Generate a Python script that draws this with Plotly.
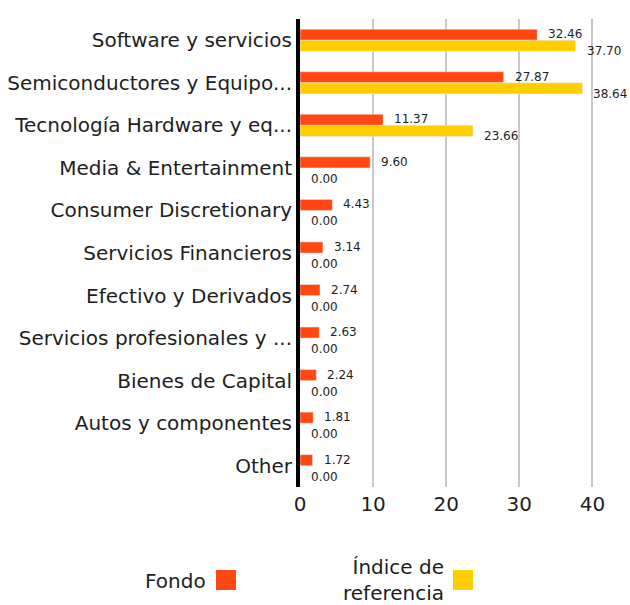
import plotly.graph_objects as go

categories = [
    "Software y servicios",
    "Semiconductores y Equipo...",
    "Tecnología Hardware y eq...",
    "Media & Entertainment",
    "Consumer Discretionary",
    "Servicios Financieros",
    "Efectivo y Derivados",
    "Servicios profesionales y ...",
    "Bienes de Capital",
    "Autos y componentes",
    "Other",
]
fondo = [32.46, 27.87, 11.37, 9.60, 4.43, 3.14, 2.74, 2.63, 2.24, 1.81, 1.72]
indice = [37.70, 38.64, 23.66, 0.00, 0.00, 0.00, 0.00, 0.00, 0.00, 0.00, 0.00]
series_names = ["Fondo", "Índice de<br>referencia"]
x_ticks = [0, 10, 20, 30, 40]

C_FONDO = "#FF4713"
C_IND = "#FFCE00"
TXT = "#1e1e1e"
FONT = "DejaVu Sans"

W, H = 630, 605
ML, MR, MT, MB = 300, 23, 19, 118
XMAX = 42

fig = go.Figure()
fig.add_trace(go.Bar(y=categories, x=fondo, orientation="h", marker_color=C_FONDO,
                     name=series_names[0], showlegend=False))
fig.add_trace(go.Bar(y=categories, x=indice, orientation="h", marker_color=C_IND,
                     name=series_names[1], showlegend=False))

ann = []
for c, v in zip(categories, fondo):
    ann.append(dict(x=v, y=c, xref="x", yref="y", text=f"{v:.2f}", showarrow=False,
                    xanchor="left", yanchor="middle", xshift=9, yshift=6,
                    font=dict(size=12, color=TXT, family=FONT)))
for c, v in zip(categories, indice):
    ann.append(dict(x=v, y=c, xref="x", yref="y", text=f"{v:.2f}", showarrow=False,
                    xanchor="left", yanchor="middle", xshift=9, yshift=-11,
                    font=dict(size=12, color=TXT, family=FONT)))

pw = W - ML - MR
ph = H - MT - MB


def px(p):
    return (p - ML) / pw


def py(p):
    return 1 - (p - MT) / ph


# manual legend (label left of swatch)
ann.append(dict(x=px(208), y=py(581), xref="paper", yref="paper", text=series_names[0],
                showarrow=False, xanchor="right", yanchor="middle",
                font=dict(size=20, color=TXT, family=FONT)))
ann.append(dict(x=px(446), y=py(580), xref="paper", yref="paper", text=series_names[1],
                showarrow=False, xanchor="right", yanchor="middle", align="right",
                font=dict(size=20, color=TXT, family=FONT)))
shapes = [
    dict(type="rect", xref="paper", yref="paper", x0=px(216), x1=px(236), y0=py(590), y1=py(570),
         fillcolor=C_FONDO, line_width=0),
    dict(type="rect", xref="paper", yref="paper", x0=px(453), x1=px(473), y0=py(590), y1=py(570),
         fillcolor=C_IND, line_width=0),
]

fig.update_layout(
    width=W, height=H,
    margin=dict(l=ML, r=MR, t=MT, b=MB, pad=0, autoexpand=False),
    paper_bgcolor="white", plot_bgcolor="white",
    barmode="group", bargap=0.48, bargroupgap=0,
    font=dict(family=FONT, color=TXT),
    annotations=ann, shapes=shapes,
    showlegend=False,
    xaxis=dict(range=[0, XMAX], tickvals=x_ticks, ticktext=[str(t) for t in x_ticks],
               showgrid=True, gridcolor="#c8c8c8", gridwidth=2, zeroline=False,
               showline=False, ticks="", ticklabelstandoff=3, automargin=False,
               tickfont=dict(size=20, color=TXT, family=FONT)),
    yaxis=dict(type="category", autorange="reversed", showgrid=False, zeroline=False,
               showline=True, linecolor="black", linewidth=4, ticks="", automargin=False,
               tickfont=dict(size=20, color=TXT, family=FONT)),
)

fig.write_html(
    "out.html",
    config={"displayModeBar": False},
    post_script="document.body.style.margin='0';document.body.style.overflow='hidden';",
)
